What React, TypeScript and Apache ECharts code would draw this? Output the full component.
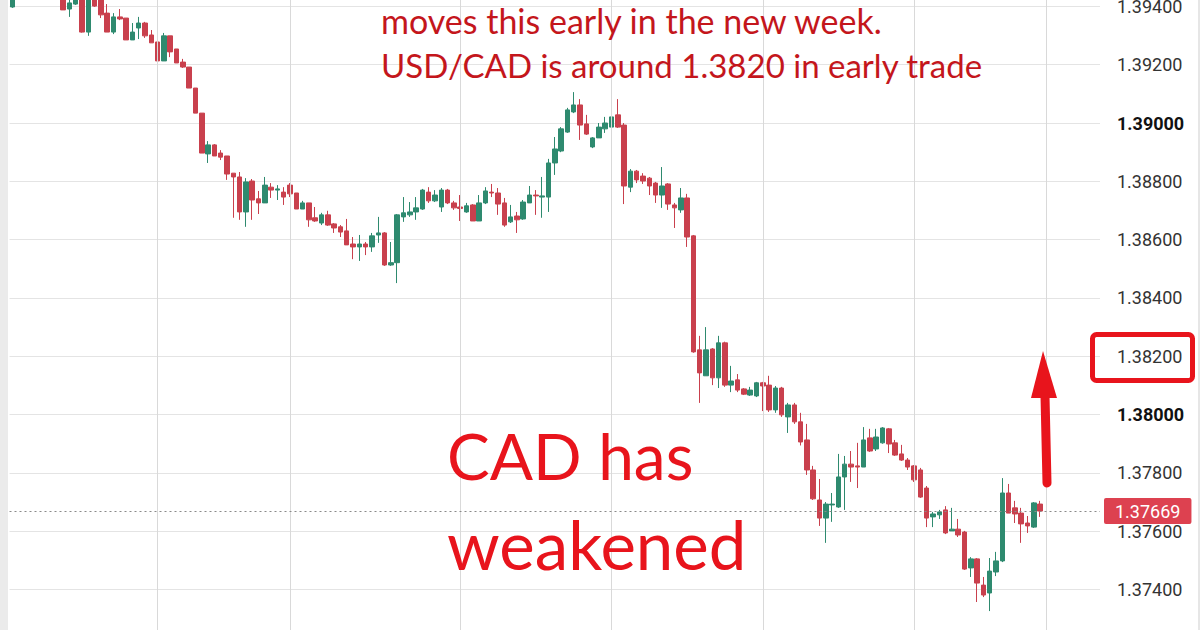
import React, { useEffect, useRef } from "react";
import * as echarts from "echarts";

// Hourly candles, oldest first: [open, close, low, high]
const ohlc: number[][] = [
  [1.39398, 1.3944, 1.39395, 1.3945],
  [1.3944, 1.3947, 1.3943, 1.3948],
  [1.3947, 1.39455, 1.39445, 1.3949],
  [1.39455, 1.3949, 1.3945, 1.395],
  [1.3949, 1.39475, 1.3946, 1.39505],
  [1.39475, 1.3946, 1.3944, 1.39485],
  [1.3946, 1.3948, 1.39445, 1.39495],
  [1.3948, 1.3945, 1.3944, 1.3949],
  [1.3945, 1.39388, 1.39388, 1.3946],
  [1.39391, 1.39412, 1.39364, 1.39425],
  [1.39408, 1.3943, 1.39405, 1.3944],
  [1.3944, 1.39312, 1.3931, 1.3945],
  [1.39312, 1.3943, 1.39299, 1.39445],
  [1.3943, 1.39401, 1.39398, 1.3944],
  [1.39425, 1.39371, 1.3936, 1.39435],
  [1.39377, 1.39312, 1.39312, 1.39408],
  [1.39312, 1.39364, 1.39305, 1.39377],
  [1.39364, 1.39357, 1.39353, 1.39391],
  [1.3936, 1.39285, 1.39285, 1.3936],
  [1.39285, 1.39312, 1.39285, 1.39343],
  [1.39326, 1.39343, 1.39288, 1.39364],
  [1.39343, 1.39299, 1.39292, 1.39347],
  [1.39302, 1.39275, 1.39275, 1.39319],
  [1.39278, 1.39213, 1.39213, 1.39278],
  [1.39213, 1.39299, 1.39213, 1.39309],
  [1.39299, 1.39244, 1.39226, 1.39299],
  [1.39254, 1.39206, 1.39206, 1.39254],
  [1.39209, 1.39192, 1.39189, 1.3922],
  [1.39192, 1.3912, 1.3912, 1.39192],
  [1.3912, 1.39034, 1.39034, 1.3912],
  [1.39034, 1.38897, 1.38897, 1.39034],
  [1.38894, 1.38925, 1.38863, 1.38938],
  [1.38925, 1.38887, 1.38887, 1.38928],
  [1.38897, 1.38883, 1.38873, 1.38907],
  [1.38887, 1.38825, 1.38805, 1.38887],
  [1.38828, 1.38815, 1.38675, 1.38828],
  [1.38815, 1.38695, 1.38668, 1.38832],
  [1.38695, 1.38798, 1.38644, 1.38811],
  [1.38801, 1.38736, 1.38668, 1.38808],
  [1.3874, 1.38726, 1.38688, 1.38767],
  [1.38726, 1.38787, 1.38726, 1.38815],
  [1.3878, 1.3877, 1.38743, 1.38794],
  [1.3877, 1.38774, 1.38736, 1.38787],
  [1.38763, 1.38746, 1.38719, 1.3878],
  [1.38787, 1.38757, 1.38746, 1.38794],
  [1.3876, 1.38705, 1.38705, 1.3876],
  [1.38705, 1.38726, 1.38705, 1.38733],
  [1.38726, 1.38668, 1.38644, 1.38726],
  [1.38675, 1.38664, 1.38661, 1.38712],
  [1.38657, 1.38685, 1.3865, 1.38692],
  [1.38685, 1.3865, 1.38647, 1.38699],
  [1.38654, 1.3864, 1.38623, 1.38657],
  [1.38644, 1.38626, 1.38609, 1.3865],
  [1.3863, 1.38582, 1.38582, 1.38671],
  [1.38585, 1.38575, 1.38533, 1.38609],
  [1.38575, 1.38585, 1.38527, 1.38616],
  [1.38585, 1.38575, 1.38547, 1.38592],
  [1.38575, 1.38613, 1.38558, 1.38623],
  [1.38616, 1.38623, 1.38589, 1.38678],
  [1.38623, 1.38513, 1.3851, 1.38626],
  [1.38513, 1.38521, 1.3851, 1.38592],
  [1.38521, 1.38685, 1.38451, 1.38688],
  [1.38678, 1.38692, 1.38661, 1.38746],
  [1.38685, 1.38695, 1.38678, 1.38729],
  [1.38695, 1.38709, 1.38668, 1.38746],
  [1.38705, 1.3877, 1.38702, 1.38774],
  [1.38763, 1.38733, 1.38726, 1.3878],
  [1.38733, 1.38753, 1.38729, 1.3877],
  [1.38712, 1.3877, 1.38695, 1.38777],
  [1.3877, 1.38726, 1.38722, 1.38774],
  [1.38726, 1.38709, 1.38702, 1.38733],
  [1.38712, 1.38707, 1.38664, 1.38753],
  [1.38695, 1.38716, 1.38692, 1.38726],
  [1.38719, 1.38664, 1.38664, 1.38722],
  [1.38664, 1.38726, 1.38664, 1.38753],
  [1.38726, 1.38767, 1.38722, 1.3878],
  [1.38763, 1.3876, 1.38746, 1.38791],
  [1.3876, 1.38722, 1.38685, 1.38777],
  [1.38726, 1.3865, 1.38644, 1.38743],
  [1.38661, 1.38678, 1.38657, 1.38719],
  [1.38681, 1.38668, 1.38623, 1.38695],
  [1.38671, 1.38729, 1.38668, 1.38736],
  [1.38726, 1.38753, 1.38726, 1.38784],
  [1.38753, 1.3875, 1.38685, 1.3877],
  [1.38746, 1.3875, 1.38675, 1.38815],
  [1.38746, 1.38863, 1.38695, 1.38877],
  [1.38863, 1.38911, 1.38822, 1.38952],
  [1.38904, 1.3898, 1.389, 1.38986],
  [1.38969, 1.39045, 1.38966, 1.39052],
  [1.39038, 1.39062, 1.39034, 1.39106],
  [1.39062, 1.38993, 1.38942, 1.39082],
  [1.38997, 1.38962, 1.38959, 1.39028],
  [1.38918, 1.38949, 1.38914, 1.38952],
  [1.38949, 1.38986, 1.38949, 1.39],
  [1.3898, 1.39, 1.38966, 1.39021],
  [1.38986, 1.39021, 1.38935, 1.39028],
  [1.39028, 1.38986, 1.38983, 1.39082],
  [1.38993, 1.38784, 1.38722, 1.39],
  [1.3878, 1.38835, 1.38763, 1.38842],
  [1.38835, 1.38805, 1.38794, 1.38839],
  [1.38818, 1.38801, 1.38791, 1.38828],
  [1.38811, 1.38784, 1.38753, 1.38815],
  [1.38794, 1.38753, 1.38726, 1.38798],
  [1.38753, 1.38784, 1.38709, 1.38849],
  [1.38791, 1.38722, 1.38702, 1.38794],
  [1.38719, 1.38709, 1.3864, 1.38726],
  [1.38702, 1.38743, 1.38692, 1.38777],
  [1.38743, 1.38609, 1.38575, 1.38757],
  [1.38613, 1.38215, 1.38212, 1.38616],
  [1.38222, 1.38143, 1.3804, 1.3827],
  [1.38133, 1.38222, 1.38133, 1.383],
  [1.38225, 1.38126, 1.38101, 1.38228],
  [1.38126, 1.38246, 1.38091, 1.3827],
  [1.38246, 1.38101, 1.38095, 1.3825],
  [1.38101, 1.38115, 1.38077, 1.38167],
  [1.38119, 1.38084, 1.38077, 1.38139],
  [1.38088, 1.3807, 1.38067, 1.38091],
  [1.38067, 1.38084, 1.38064, 1.38095],
  [1.38064, 1.38109, 1.3806, 1.38112],
  [1.38109, 1.38098, 1.38012, 1.38112],
  [1.38101, 1.38016, 1.38009, 1.38133],
  [1.38016, 1.38091, 1.38006, 1.38098],
  [1.38091, 1.37999, 1.37992, 1.38095],
  [1.37992, 1.38033, 1.37937, 1.3804],
  [1.38033, 1.37975, 1.37968, 1.3804],
  [1.37975, 1.37906, 1.37894, 1.38006],
  [1.37913, 1.3781, 1.37793, 1.37968],
  [1.3781, 1.37711, 1.37707, 1.37824],
  [1.37707, 1.37645, 1.37618, 1.37779],
  [1.37645, 1.37693, 1.3756, 1.377],
  [1.3769, 1.37693, 1.37632, 1.37731],
  [1.37683, 1.37786, 1.3768, 1.37865],
  [1.37786, 1.3783, 1.37673, 1.37858],
  [1.3783, 1.3782, 1.37769, 1.37875],
  [1.37824, 1.3782, 1.37748, 1.37903],
  [1.3782, 1.37913, 1.3782, 1.37957],
  [1.3792, 1.37875, 1.37872, 1.37951],
  [1.37882, 1.37923, 1.37875, 1.37951],
  [1.37903, 1.37954, 1.379, 1.37957],
  [1.37951, 1.37899, 1.37868, 1.37954],
  [1.37903, 1.37861, 1.37858, 1.37913],
  [1.37865, 1.37844, 1.37841, 1.37896],
  [1.37844, 1.3782, 1.3781, 1.37851],
  [1.37824, 1.37776, 1.37769, 1.37827],
  [1.3781, 1.37717, 1.37714, 1.37817],
  [1.37748, 1.37645, 1.37614, 1.37755],
  [1.37649, 1.37659, 1.37614, 1.37666],
  [1.37656, 1.37666, 1.37642, 1.37673],
  [1.37673, 1.37594, 1.3759, 1.37686],
  [1.37601, 1.37607, 1.37601, 1.3768],
  [1.37607, 1.37587, 1.3758, 1.37642],
  [1.37597, 1.3747, 1.37467, 1.37601],
  [1.37474, 1.37505, 1.37443, 1.37511],
  [1.37505, 1.37422, 1.37357, 1.37508],
  [1.37415, 1.37381, 1.37374, 1.37443],
  [1.37388, 1.37463, 1.37326, 1.37508],
  [1.3746, 1.37498, 1.37446, 1.37529],
  [1.37498, 1.37731, 1.37494, 1.37782],
  [1.37731, 1.37662, 1.37662, 1.37762],
  [1.3768, 1.37659, 1.37628, 1.37704],
  [1.37662, 1.37625, 1.3756, 1.3768],
  [1.37628, 1.37618, 1.37594, 1.37652],
  [1.37614, 1.37697, 1.37611, 1.377],
  [1.37693, 1.37669, 1.37649, 1.37704],
];

// hourly slots on the time axis (candles plus empty space to the right)
const slotCount = 173;
const categories: string[] = Array.from({ length: slotCount }, (_, i) => `H${i}`);
// slots where a new trading day starts (vertical grid lines)
const dayStarts = [23, 44, 71, 95, 119, 143, 164];

const yMin = 1.372;
const yMax = 1.396;
const yStep = 0.002;
// tick labels that are shown (the rest of the axis lies outside the picture)
const visibleTicks = [1.374, 1.394];
const boldTicks = [1.38, 1.39];

const noteLines = [
  "moves this early in the new week.",
  "USD/CAD is around 1.3820 in early trade",
];
const bigLines = ["CAD has", "weakened"];

const UP = "#2e8a6f";
const DOWN = "#c9404d";
const ANNOT = "#e8141c";

export default function App() {
  const ref = useRef<HTMLDivElement>(null);

  useEffect(() => {
    if (!ref.current) return;
    document.body.style.margin = "0";
    const chart = echarts.init(ref.current, null, { renderer: "svg" });
    const lastClose = ohlc[ohlc.length - 1][1];

    chart.setOption({
      animation: false,
      backgroundColor: "#ffffff",
      grid: {
        left: 9.5,
        right: 100,
        top: -51.9,
        bottom: -17.8,
        containLabel: false,
        outerBoundsMode: "none",
      },
      xAxis: {
        type: "category",
        data: categories,
        boundaryGap: true,
        axisLine: { show: false },
        axisTick: { show: false },
        axisLabel: { show: false },
        splitLine: { show: false },
      },
      yAxis: {
        type: "value",
        position: "right",
        min: yMin,
        max: yMax,
        interval: yStep,
        axisLine: { show: false },
        axisTick: { show: false },
        splitLine: { lineStyle: { color: "#e4e4e4", width: 1 } },
        axisLabel: {
          margin: 17,
          fontFamily: "Roboto",
          fontSize: 18,
          color: "#333333",
          formatter: (v: number) => {
            if (v < visibleTicks[0] - 1e-7 || v > visibleTicks[1] + 1e-7) return "";
            const s = v.toFixed(5);
            return boldTicks.some((b) => Math.abs(b - v) < 1e-7) ? `{b|${s}}` : s;
          },
          rich: {
            b: { fontFamily: "Roboto", fontSize: 18, fontWeight: "bold", color: "#111111" },
          },
        },
      },
      series: [
        {
          type: "line",
          data: [],
          silent: true,
          z: 1,
          markLine: {
            silent: true,
            symbol: ["none", "none"],
            label: { show: false },
            lineStyle: { color: "#d9d9d9", type: "solid", width: 1 },
            data: dayStarts.map((i) => ({ xAxis: categories[i] })),
          },
        },
        {
          type: "candlestick",
          data: ohlc,
          barWidth: 5,
          z: 3,
          itemStyle: {
            color: UP,
            color0: DOWN,
            borderColor: UP,
            borderColor0: DOWN,
            borderWidth: 1,
          },
          markLine: {
            silent: true,
            symbol: ["none", "none"],
            precision: 5,
            lineStyle: { color: "#8a8a8a", type: [2, 3], width: 1 },
            label: {
              show: true,
              position: "end",
              distance: 4,
              formatter: () => lastClose.toFixed(5),
              color: "#ffffff",
              backgroundColor: "#dd4150",
              fontFamily: "Roboto",
              fontSize: 18,
              lineHeight: 20,
              padding: [3, 11, 3, 11],
              borderRadius: 2,
            },
            data: [{ yAxis: lastClose }],
          },
        },
      ],
      graphic: [
        { type: "rect", z: 100, shape: { x: 0, y: 0, width: 8, height: 630 }, style: { fill: "#ebebeb" } },
        { type: "rect", z: 100, shape: { x: 1198, y: 0, width: 2, height: 630 }, style: { fill: "#e6e6e6" } },
        {
          type: "rect",
          z: 100,
          shape: { x: 1092.5, y: 334.5, width: 100, height: 46, r: 4 },
          style: { fill: "transparent", stroke: ANNOT, lineWidth: 5 },
        },
        {
          type: "line",
          z: 100,
          shape: { x1: 1047, y1: 483, x2: 1045, y2: 396 },
          style: { stroke: ANNOT, lineWidth: 9, lineCap: "round" },
        },
        {
          type: "polygon",
          z: 100,
          shape: { points: [[1043, 351], [1031, 398], [1057, 398]] },
          style: { fill: ANNOT },
        },
        {
          type: "text",
          z: 100,
          x: 381,
          y: 20,
          style: { text: noteLines[0], fill: "#c4161c", fontFamily: "Lato", fontSize: 34, verticalAlign: "middle" },
        },
        {
          type: "text",
          z: 100,
          x: 381,
          y: 65,
          style: { text: noteLines[1], fill: "#c4161c", fontFamily: "Lato", fontSize: 33, verticalAlign: "middle" },
        },
        {
          type: "text",
          z: 100,
          x: 447,
          y: 455,
          style: { text: bigLines[0], fill: ANNOT, fontFamily: "Lato", fontSize: 64, verticalAlign: "middle" },
        },
        {
          type: "text",
          z: 100,
          x: 447,
          y: 544,
          style: { text: bigLines[1], fill: ANNOT, fontFamily: "Lato", fontSize: 67.2, verticalAlign: "middle" },
        },
      ],
    });

    return () => chart.dispose();
  }, []);

  return (
    <div
      ref={ref}
      style={{ position: "fixed", left: 0, top: 0, width: 1200, height: 630, background: "#fff" }}
    />
  );
}
